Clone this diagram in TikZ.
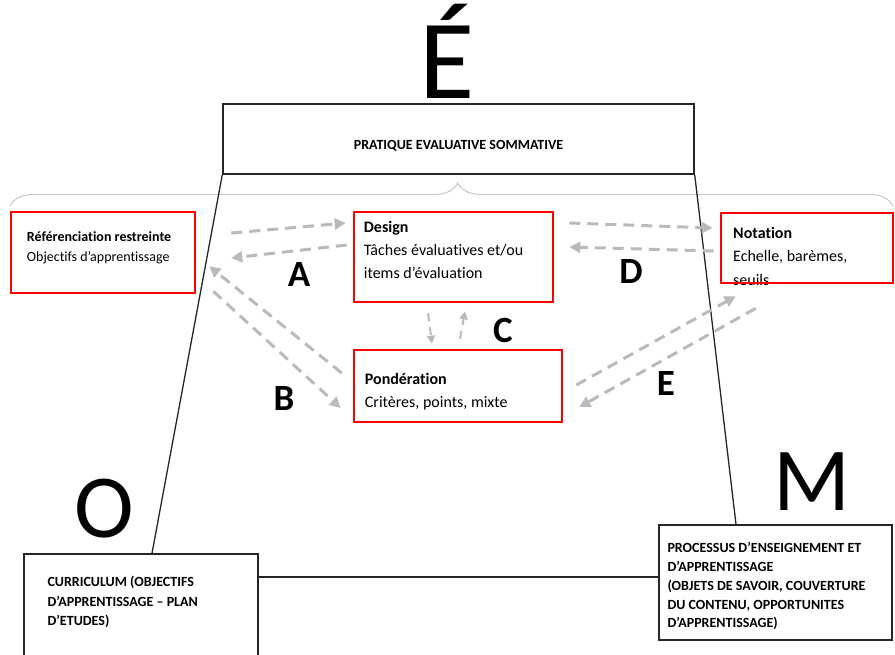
\documentclass[tikz,border=0pt]{standalone}
\usepackage{fontspec}
\setmainfont{Carlito}[Ligatures=CommonOff]
\usetikzlibrary{arrows.meta,positioning,decorations.pathreplacing}

\begin{document}
\begin{tikzpicture}[x=1pt,y=-1pt,
  frame/.style={draw=black!85,line width=1.4pt},
  redbox/.style={draw=red,line width=2.6pt},
  link/.style={draw=black!85,line width=1.3pt},
  flow/.style={color=black!27,line width=3pt,dash pattern=on 11pt off 7pt,-{Triangle[length=11pt,width=11pt]}},
  thinflow/.style={flow,line width=2pt,dash pattern=on 8pt off 6pt,-{Triangle[length=8pt,width=8pt]}},
  overbrace/.style={decorate,decoration={brace,amplitude=23pt,aspect=0.507},draw=black!22,line width=1pt},
  txt/.style={inner sep=0pt,anchor=north west,align=left},
  caps/.style={txt,font=\fontsize{14}{19.5}\selectfont\bfseries},
  big/.style={anchor=base,font=\fontsize{90}{90}\selectfont},
  letter/.style={font=\fontsize{37}{37}\selectfont\bfseries}]
\path[use as bounding box,clip] (0,0) rectangle (895,654);

\draw[overbrace] (10,206) -- (893,206);

\node[big,font=\fontsize{113}{113}\selectfont] (e) at (447,98) {É};
\node[big] (o) at (104,537) {O};
\node[big] (m) at (812,510) {M};

\node[frame,minimum width=471,minimum height=70] (pes) at (458.5,139) {};
\node[anchor=base,font=\fontsize{14}{16}\selectfont\bfseries] (pes-txt) at (458.5,149) {PRATIQUE EVALUATIVE SOMMATIVE};

\node[frame,minimum width=234,minimum height=130] (curr) at (141,619) {};
\node[caps,below right=23pt and 24pt of curr.north west] (curr-txt) {CURRICULUM (OBJECTIFS\\D’APPRENTISSAGE – PLAN\\D’ETUDES)};

\node[frame,minimum width=233,minimum height=115] (proc) at (775.5,582.5) {};
\node[caps,font=\fontsize{14}{18.8}\selectfont\bfseries,below right=18pt and 9pt of proc.north west] (proc-txt) {PROCESSUS D’ENSEIGNEMENT ET\\D’APPRENTISSAGE\\(OBJETS DE SAVOIR, COUVERTURE\\DU CONTENU, OPPORTUNITES\\D’APPRENTISSAGE)};

\draw[link] (pes.south west) -- ([xshift=11pt]curr.north);
\draw[link] (pes.south east) -- ([xshift=-39.5pt]proc.north);
\coordinate (mid) at ([shift={(0,-5.5)}]proc.west);
\draw[link] (mid) -- (mid -| curr.east);

\node[redbox,minimum width=184,minimum height=81] (ref) at (103,252.5) {};
\node[txt,font=\fontsize{14}{19.5}\selectfont,below right=21pt and 17pt of ref.north west] (ref-txt) {\textbf{Référenciation restreinte}\\Objectifs d’apprentissage};

\node[redbox,minimum width=199,minimum height=90] (design) at (453.5,257) {};
\node[txt,font=\fontsize{16}{23}\selectfont,below right=10.5pt and 11pt of design.north west] (design-txt) {\textbf{Design}\\Tâches évaluatives et/ou\\items d’évaluation};

\node[txt,font=\fontsize{16}{23.5}\selectfont] (notation-txt) at (733,227) {\textbf{Notation}\\Echelle, barèmes,\\seuils};
\node[redbox,minimum width=172,minimum height=70] (notation) at (807,248) {};

\node[redbox,minimum width=208,minimum height=72] (pond) at (458,386) {};
\node[txt,font=\fontsize{16}{23}\selectfont,below right=24.5pt and 12pt of pond.north west] (pond-txt) {\textbf{Pondération}\\Critères, points, mixte};

\path[flow] ([shift={(35,-19.5)}]ref.east) edge ([shift={(-7,-34)}]design.west)
            ([shift={(-6,-12)}]design.west) edge ([shift={(35,5.5)}]ref.east)
            ([shift={(15,-34)}]design.east) edge ([shift={(-7,-20)}]notation.west)
            ([shift={(-6,3)}]notation.west) edge ([shift={(15,-10)}]design.east)
            ([shift={(-11,-13)}]pond.west) edge ([shift={(13,-28)}]ref.south east)
            ([shift={(17,-3)}]ref.south east) edge ([shift={(-12,22)}]pond.west)
            ([shift={(13,-1)}]pond.east) edge ([shift={(16,12)}]notation.south west)
            ([shift={(36,24)}]notation.south west) edge ([shift={(16,21)}]pond.east);
\path[thinflow] ([shift={(-25.5,10)}]design.south) edge ([shift={(-26,-5)}]pond.north)
                ([shift={(2,-10)}]pond.north) edge ([shift={(11.5,8)}]design.south);

\node[letter] (lbl-a) at (299,274) {A};
\node[letter] (lbl-b) at (284,398) {B};
\node[letter] (lbl-c) at (503,330) {C};
\node[letter] (lbl-d) at (631,271) {D};
\node[letter] (lbl-e) at (666,383) {E};
\end{tikzpicture}
\end{document}
